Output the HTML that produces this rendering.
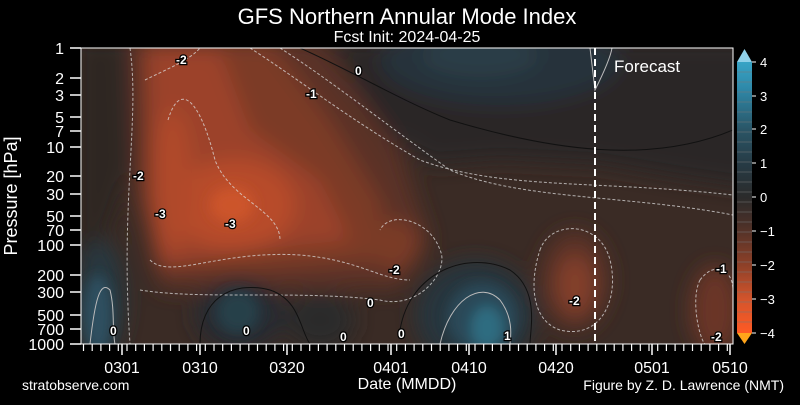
<!DOCTYPE html>
<html><head><style>
html,body{margin:0;padding:0;background:#000;}
body{width:800px;height:400px;overflow:hidden;font-family:"Liberation Sans",sans-serif;}
</style></head><body>
<svg width="800" height="400" xmlns="http://www.w3.org/2000/svg" font-family="Liberation Sans, sans-serif">
<defs>
<clipPath id="pc"><rect x="81" y="48" width="652" height="296"/></clipPath>
<filter id="b1" x="-20%" y="-20%" width="140%" height="140%"><feGaussianBlur stdDeviation="10"/></filter>
<filter id="b2" x="-20%" y="-20%" width="140%" height="140%"><feGaussianBlur stdDeviation="6"/></filter>
<linearGradient id="cb" x1="0" y1="1" x2="0" y2="0">
<stop offset="0" stop-color="#ff5a24"/><stop offset="0.12" stop-color="#d5552c"/>
<stop offset="0.25" stop-color="#8e4028"/><stop offset="0.4" stop-color="#4a3028"/>
<stop offset="0.5" stop-color="#2b2b2b"/><stop offset="0.62" stop-color="#263a44"/>
<stop offset="0.75" stop-color="#2a5566"/><stop offset="0.9" stop-color="#2e88a8"/>
<stop offset="1" stop-color="#38a4c6"/></linearGradient>
</defs>
<rect width="800" height="400" fill="#000"/>
<text x="407" y="24" fill="#fff" font-size="22" text-anchor="middle">GFS Northern Annular Mode Index</text>
<text x="407" y="42" fill="#fff" font-size="16" text-anchor="middle">Fcst Init: 2024-04-25</text>
<g clip-path="url(#pc)">
<rect x="81" y="48" width="652" height="296" fill="#3a2b25"/>
<g filter="url(#b1)">
<polygon points="330,40 760,40 760,190 690,180 600,165 500,160 430,165 380,130" fill="#2a2726"/>
<ellipse cx="500" cy="60" rx="120" ry="45" fill="#27333a"/>
<ellipse cx="480" cy="55" rx="60" ry="22" fill="#2a3d46"/>
<polygon points="75,40 125,40 130,170 110,230 75,260" fill="#2e2522"/>
<polygon points="130,40 320,40 400,150 430,240 400,290 260,290 160,290 135,200" fill="#5a3025"/>
<polygon points="140,40 270,40 330,120 380,200 390,260 260,270 160,270 145,200" fill="#7c3a27"/>
<polygon points="148,50 220,50 250,130 320,180 350,240 250,250 160,265 152,180" fill="#9c4329"/>
<ellipse cx="235" cy="205" rx="60" ry="45" fill="#b84b2b"/>
<ellipse cx="172" cy="180" rx="20" ry="70" fill="#b04a2b"/>
<ellipse cx="395" cy="245" rx="25" ry="25" fill="#7a3a27"/>
<ellipse cx="575" cy="280" rx="35" ry="50" fill="#5a3025"/>
<ellipse cx="575" cy="285" rx="18" ry="30" fill="#84402a"/>
<ellipse cx="715" cy="310" rx="25" ry="45" fill="#6a3526"/>
<ellipse cx="100" cy="300" rx="25" ry="60" fill="#283840"/>
<ellipse cx="240" cy="315" rx="45" ry="35" fill="#262c30"/>
<ellipse cx="320" cy="320" rx="35" ry="30" fill="#2a2b2c"/>
<ellipse cx="475" cy="315" rx="60" ry="55" fill="#26353c"/>
</g>
<g filter="url(#b2)">
<ellipse cx="98" cy="315" rx="14" ry="40" fill="#2d5060"/>
<ellipse cx="238" cy="312" rx="22" ry="22" fill="#27404a"/>
<ellipse cx="482" cy="318" rx="35" ry="35" fill="#2a4a58"/>
<ellipse cx="487" cy="328" rx="16" ry="22" fill="#2f6c80"/>
<ellipse cx="232" cy="205" rx="22" ry="18" fill="#cc552c"/>
</g>
<g fill="none" stroke="#ddd" stroke-width="1" stroke-dasharray="3,2" opacity="0.75">
<path d="M130,48 C140,120 120,200 130,344"/>
<path d="M145,80 C165,70 190,60 200,48"/>
<path d="M168,120 C180,80 200,100 215,160 C230,200 280,210 280,240"/>
<path d="M150,260 C170,280 220,250 300,255 C360,260 380,280 410,280"/>
<path d="M140,290 C200,300 300,290 380,300 C420,310 450,270 440,250 C430,220 390,210 380,230"/>
<path d="M250,48 C300,80 350,120 420,160 C500,190 600,180 733,195"/>
<path d="M280,48 C330,80 380,120 450,170 C520,200 630,195 733,215"/>
<path d="M540,250 C550,220 600,220 610,260 C620,300 600,340 560,330 C530,320 530,280 540,250"/>
<path d="M700,280 C715,260 733,270 733,290 M700,280 C690,300 700,340 705,344"/>
</g>
<g fill="none" stroke="#111" stroke-width="1">
<path d="M300,48 C350,70 400,100 450,120 C550,150 650,165 733,130"/>
<path d="M400,330 C410,270 470,250 510,270 C540,290 530,330 530,344"/>
<path d="M200,344 C200,300 230,280 270,290 C300,300 300,330 310,344"/>
</g>
<g fill="none" stroke="#bbb" stroke-width="1">
<path d="M440,344 C450,300 480,280 500,300 C515,320 510,340 510,344"/>
<path d="M590,48 L595,90 C600,80 610,60 612,48"/>
<path d="M90,344 C95,300 100,280 110,290 C115,310 112,330 115,344"/>
</g>
<line x1="595" y1="48" x2="595" y2="344" stroke="#fff" stroke-width="2" stroke-dasharray="7,4"/>
<text x="614" y="72" fill="#fff" font-size="17">Forecast</text>
<g fill="#fff" font-size="12" font-weight="bold" stroke="#000" stroke-width="2.5" paint-order="stroke">
<text x="176" y="64">-2</text>
<text x="306" y="98">-1</text>
<text x="355" y="75">0</text>
<text x="133" y="180">-2</text>
<text x="155" y="218">-3</text>
<text x="225" y="228">-3</text>
<text x="389" y="274">-2</text>
<text x="367" y="307">0</text>
<text x="398" y="338">0</text>
<text x="569" y="305">-2</text>
<text x="716" y="273">-1</text>
<text x="711" y="341">-2</text>
<text x="110" y="335">0</text>
<text x="243" y="335">0</text>
<text x="340" y="341">0</text>
<text x="504" y="340">1</text>
</g>
</g>
<rect x="81" y="48" width="652" height="296" fill="none" stroke="#fff" stroke-width="1"/>
<g fill="#fff" font-size="16" text-anchor="end">
<text x="64" y="54">1</text><text x="64" y="84">2</text><text x="64" y="101">3</text>
<text x="64" y="123">5</text><text x="64" y="137">7</text><text x="64" y="153">10</text>
<text x="64" y="182">20</text><text x="64" y="200">30</text><text x="64" y="222">50</text>
<text x="64" y="236">70</text><text x="64" y="251">100</text><text x="64" y="281">200</text>
<text x="64" y="298">300</text><text x="64" y="321">500</text><text x="64" y="335">700</text>
<text x="64" y="350">1000</text>
</g>
<g stroke="#fff" stroke-width="1.5">
<line x1="70" y1="48" x2="81" y2="48"/><line x1="70" y1="78" x2="81" y2="78"/><line x1="70" y1="95" x2="81" y2="95"/>
<line x1="70" y1="117" x2="81" y2="117"/><line x1="70" y1="131" x2="81" y2="131"/><line x1="70" y1="147" x2="81" y2="147"/>
<line x1="70" y1="176" x2="81" y2="176"/><line x1="70" y1="194" x2="81" y2="194"/><line x1="70" y1="216" x2="81" y2="216"/>
<line x1="70" y1="230" x2="81" y2="230"/><line x1="70" y1="245" x2="81" y2="245"/><line x1="70" y1="275" x2="81" y2="275"/>
<line x1="70" y1="292" x2="81" y2="292"/><line x1="70" y1="315" x2="81" y2="315"/><line x1="70" y1="329" x2="81" y2="329"/>
<line x1="70" y1="344" x2="81" y2="344"/>
</g>
<path stroke="#fff" stroke-width="1.2" d="M83.5,344v7M92.2,344v7M100.9,344v7M109.6,344v7M118.3,344v7M127,344v7M135.7,344v7M144.4,344v7M153.1,344v7M161.8,344v7M170.5,344v7M179.2,344v7M187.9,344v7M196.6,344v7M205.3,344v7M214,344v7M222.7,344v7M231.4,344v7M240.1,344v7M248.8,344v7M257.5,344v7M266.2,344v7M274.9,344v7M283.6,344v7M292.3,344v7M301,344v7M309.7,344v7M318.4,344v7M327.1,344v7M335.8,344v7M344.5,344v7M353.2,344v7M361.9,344v7M370.6,344v7M379.3,344v7M388,344v7M396.7,344v7M405.4,344v7M414.1,344v7M422.8,344v7M431.5,344v7M440.2,344v7M448.9,344v7M457.6,344v7M466.3,344v7M475,344v7M483.7,344v7M492.4,344v7M501.1,344v7M509.8,344v7M518.5,344v7M527.2,344v7M535.9,344v7M544.6,344v7M553.3,344v7M562,344v7M570.7,344v7M579.4,344v7M588.1,344v7M596.8,344v7M605.5,344v7M614.2,344v7M622.9,344v7M631.6,344v7M640.3,344v7M649,344v7M657.7,344v7M666.4,344v7M675.1,344v7M683.8,344v7M692.5,344v7M701.2,344v7M709.9,344v7M718.6,344v7M727.3,344v7"/>
<g stroke="#fff" stroke-width="1.5">
<line x1="122" y1="344" x2="122" y2="355"/><line x1="200" y1="344" x2="200" y2="355"/><line x1="287" y1="344" x2="287" y2="355"/>
<line x1="391" y1="344" x2="391" y2="355"/><line x1="469" y1="344" x2="469" y2="355"/><line x1="556" y1="344" x2="556" y2="355"/>
<line x1="652" y1="344" x2="652" y2="355"/><line x1="730" y1="344" x2="730" y2="355"/>
</g>
<g fill="#fff" font-size="16" text-anchor="middle">
<text x="122" y="373">0301</text><text x="200" y="373">0310</text><text x="287" y="373">0320</text>
<text x="391" y="373">0401</text><text x="469" y="373">0410</text><text x="556" y="373">0420</text>
<text x="652" y="373">0501</text><text x="730" y="373">0510</text>
</g>
<text x="407" y="389" fill="#fff" font-size="16" text-anchor="middle">Date (MMDD)</text>
<text x="22" y="390" fill="#fff" font-size="14">stratobserve.com</text>
<text x="784" y="390" fill="#fff" font-size="14" text-anchor="end">Figure by Z. D. Lawrence (NMT)</text>
<text transform="translate(17 196) rotate(-90)" fill="#fff" font-size="18" text-anchor="middle">Pressure [hPa]</text>
<rect x="737" y="62" width="15" height="271" fill="url(#cb)"/>
<path stroke="#777" stroke-width="0.6" d="M737,72h15M737,82h15M737,92h15M737,102h15M737,112h15M737,122h15M737,132h15M737,142h15M737,152h15M737,162h15M737,172h15M737,182h15M737,192h15M737,202h15M737,212h15M737,222h15M737,232h15M737,242h15M737,252h15M737,262h15M737,272h15M737,282h15M737,292h15M737,302h15M737,312h15M737,322h15"/>
<polygon points="737,62 752,62 744.5,49" fill="#8fd0e8"/>
<polygon points="737,333 752,333 744.5,344" fill="#ffa41a"/>
<path stroke="#fff" stroke-width="1" d="M752,62h4M752,96h4M752,129h4M752,163h4M752,197h4M752,231h4M752,265h4M752,299h4M752,333h4"/>
<g fill="#fff" font-size="13">
<text x="760" y="67">4</text><text x="760" y="101">3</text><text x="760" y="134">2</text><text x="760" y="168">1</text>
<text x="760" y="202">0</text><text x="760" y="236">−1</text><text x="760" y="270">−2</text><text x="760" y="304">−3</text><text x="760" y="338">−4</text>
</g>
</svg>
</body></html>
